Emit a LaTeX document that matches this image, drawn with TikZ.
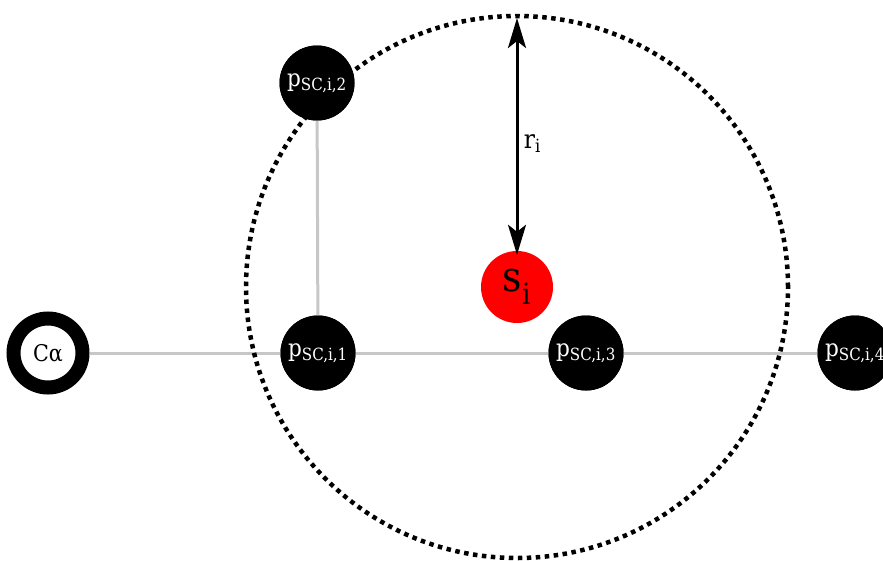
\documentclass[tikz,border=0pt]{standalone}
\usepackage{fontspec}
\setmainfont{DejaVu Serif Condensed}
\usetikzlibrary{arrows.meta}
\begin{document}
\begin{tikzpicture}[x=1pt,y=-1pt,
  scnode/.style={circle,fill=black,text=white,minimum size=75pt,inner sep=0pt,font=\fontsize{24}{26}\selectfont},
  canode/.style={circle,draw=black,line width=14pt,fill=white,minimum size=69pt,inner sep=0pt,font=\fontsize{23}{26}\selectfont},
  bond/.style={draw=black!22,line width=3pt},
  sphere/.style={draw=black,line width=4.5pt,dash pattern=on 4.5pt off 4.5pt},
  tip/.tip={Stealth[length=30pt,width=18pt,inset=7pt]}
]
\useasboundingbox (0,0) rectangle (883,560);
\node[canode] (ca) at (48,353) {Cα};
\node[scnode] (p1) at (318,353) {};
\node[scnode] (p2) at (317,83) {};
\node[scnode] (p3) at (586,353) {};
\node[scnode] (p4) at (855,353) {};
\draw[bond] (ca) -- (p1) -- (p3) -- (p4);
\draw[bond] (p1) -- (p2);
\draw[sphere] (517,287) circle[radius=271pt];
\node[scnode] at (p1) {p\textsubscript{SC,i,1}};
\node[scnode] at (p2) {p\textsubscript{SC,i,2}};
\node[scnode] at (p3) {p\textsubscript{SC,i,3}};
\node[scnode] at (p4) {p\textsubscript{SC,i,4}};
\node[circle,fill=red,minimum size=72pt,inner sep=0pt,font=\fontsize{42}{46}\selectfont] (s) at (517,287) {s\textsubscript{i}};
\coordinate (top) at (517,18);
\draw[tip-tip,line width=3pt] (top) -- ([yshift=-4pt]s.north) node[pos=0.53,right,xshift=2pt,font=\fontsize{26}{28}\selectfont] {r\textsubscript{i}};
\end{tikzpicture}
\end{document}
